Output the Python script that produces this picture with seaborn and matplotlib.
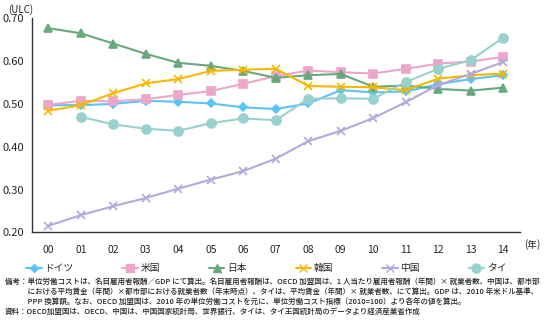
import numpy as np
import pandas as pd
import matplotlib
matplotlib.use("Agg")
import matplotlib.pyplot as plt
import seaborn as sns

years = ["00", "01", "02", "03", "04", "05", "06", "07", "08", "09", "10", "11", "12", "13", "14"]
germany = [0.497, 0.497, 0.500, 0.507, 0.505, 0.501, 0.492, 0.488, 0.501, 0.532, 0.527, 0.529, 0.546, 0.558, 0.567]
usa = [0.498, 0.507, 0.506, 0.511, 0.521, 0.530, 0.547, 0.565, 0.578, 0.574, 0.571, 0.582, 0.594, 0.599, 0.610]
japan = [0.677, 0.665, 0.641, 0.617, 0.596, 0.589, 0.577, 0.561, 0.567, 0.570, 0.540, 0.543, 0.535, 0.531, 0.538]
korea = [0.484, 0.497, 0.525, 0.548, 0.558, 0.577, 0.580, 0.582, 0.542, 0.540, 0.539, 0.532, 0.559, 0.567, 0.571]
china = [0.215, 0.240, 0.261, 0.280, 0.302, 0.323, 0.343, 0.372, 0.413, 0.437, 0.467, 0.504, 0.544, 0.570, 0.598]
thai = [np.nan, 0.470, 0.452, 0.442, 0.437, 0.455, 0.466, 0.462, 0.512, 0.513, 0.512, 0.551, 0.582, 0.602, 0.655]

names = ["ドイツ", "米国", "日本", "韓国", "中国", "タイ"]
series = [germany, usa, japan, korea, china, thai]
colors = ["#5cc3f5", "#eba6c9", "#67a97c", "#f6b800", "#b4a9dc", "#98d1cd"]
marks = ["D", "s", "^", "x", "x", "o"]
msizes = [4, 6, 6, 6, 6, 6.5]

sns.set_theme(style="white")
plt.rcParams['font.family'] = ['Noto Sans CJK JP', 'DejaVu Sans']

fig = plt.figure(figsize=(5.44, 3.23), dpi=100)
ax = fig.add_axes([32/544, 1-232.3/323, (519.5-32)/544, (232.3-18.3)/323])

for n, s, c, mk, ms in zip(names, series, colors, marks, msizes):
    d = pd.DataFrame({"x": range(len(years)), "value": s}).dropna()
    sns.lineplot(data=d, x="x", y="value", color=c, marker=mk, markersize=ms,
                 markeredgecolor=c, markerfacecolor=c, markeredgewidth=1.2,
                 linewidth=1.5, ax=ax, label=n, legend=False)

ax.set_xlim(-0.5, 14.5)
ax.set_ylim(0.20, 0.70)
ax.set_yticks(np.arange(0.20, 0.701, 0.10))
ax.set_yticklabels([f"{v:.2f}" for v in np.arange(0.20, 0.701, 0.10)], fontsize=8)
ax.set_xticks(np.arange(-0.5, 15, 1))
ax.set_xticklabels([])
ax.set_xticks(range(len(years)), minor=True)
ax.set_xticklabels(years, minor=True, fontsize=7.5)
ax.tick_params(axis="x", which="major", length=4, width=1, color="#333333", direction="out")
ax.tick_params(axis="x", which="minor", length=0, pad=9)
ax.tick_params(axis="y", length=4, width=1, color="#333333", direction="out", pad=2)
ax.set_xlabel("")
ax.set_ylabel("")
for sp in ["top", "right"]:
    ax.spines[sp].set_visible(False)
for sp in ["left", "bottom"]:
    ax.spines[sp].set_color("#333333")
    ax.spines[sp].set_linewidth(1)

fig.text(8/544, 1-10/323, "(ULC)", fontsize=7, va="center", ha="left")
fig.text(524/544, 1-245/323, "(年)", fontsize=7, va="center", ha="left")

handles = [plt.Line2D([], [], color=c, marker=m, markersize=ms, linewidth=1.5,
                      markeredgecolor=c, markerfacecolor=c)
           for c, m, ms in zip(colors, marks, msizes)]
fig.legend(handles, names, loc="center left", bbox_to_anchor=(26/544, 1-268/323),
           ncol=6, frameon=False, fontsize=7, handlelength=1.6, columnspacing=5.0,
           handletextpad=0.3, borderpad=0, borderaxespad=0)

notes = ("備考：単位労働コストは、名目雇用者報酬／GDP にて算出。名目雇用者報酬は、OECD 加盟国は、1 人当たり雇用者報酬（年間）× 就業者数、中国は、都市部\n"
         "　　　における平均賃金（年間）×都市部における就業者数（年末時点）、タイは、平均賃金（年間）× 就業者数、にて算出。GDP は、2010 年米ドル基準、\n"
         "　　　PPP 換算額。なお、OECD 加盟国は、2010 年の単位労働コストを元に、単位労働コスト指標（2010=100）より各年の値を算出。\n"
         "資料：OECD加盟国は、OECD、中国は、中国国家統計局、世界銀行、タイは、タイ王国統計局のデータより経済産業省作成")
fig.text(5/544, 1-278/323, notes, fontsize=5.45, va="top", ha="left", linespacing=1.3,
         fontweight="medium")

fig.savefig("out.png", dpi=100)
